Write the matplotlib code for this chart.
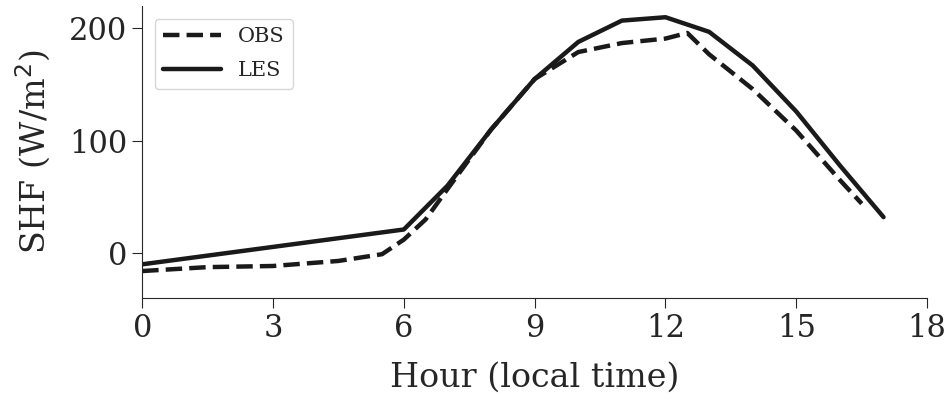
import numpy as np
import matplotlib
matplotlib.use("Agg")
import matplotlib.pyplot as plt
import seaborn as sns

# observed sensible heat flux (W/m2)
hour_obs = [0, 1.5, 3, 4.5, 5.5, 6, 6.5, 7, 8, 9, 10, 11, 12, 12.5, 13, 14, 15, 16, 16.5]
shf_obs = [-16, -12.5, -11.5, -7, -1, 12, 30, 57, 110, 155, 179, 187, 191, 196, 177, 146, 109, 65, 44]

# LES sensible heat flux (W/m2)
hour_les = [0, 6, 7, 8, 9, 10, 11, 12, 13, 14, 15, 16, 17]
shf_les = [-10, 21, 60, 110, 155, 188, 207, 210, 197, 167, 126, 78, 32]

sns.set_style("ticks")
plt.rcParams['font.family'] = ['DejaVu Serif']

fig = plt.figure(figsize=(9.48, 4.0), dpi=100)
ax = fig.add_axes([0.15, 0.255, 0.828, 0.73])

col = "#1a1a1a"
ax.plot(hour_obs, shf_obs, ls="--", lw=3.2, color=col, label="OBS")
ax.plot(hour_les, shf_les, ls="-", lw=3.2, color=col, label="LES")

ax.set_xlim(0, 18)
ax.set_ylim(-40, 220)
ax.set_xticks([0, 3, 6, 9, 12, 15, 18])
ax.set_yticks([0, 100, 200])
ax.tick_params(labelsize=22, length=7, colors=".15")
ax.set_xlabel("Hour (local time)", fontsize=24, color=".15", labelpad=13)
ax.set_ylabel("SHF (W/m$^2$)", fontsize=24, color=".15", labelpad=12)
sns.despine(ax=ax)

ax.legend(loc="upper left", fontsize=15, handlelength=2.8, frameon=True,
          labelspacing=0.75, borderaxespad=0.6)

fig.savefig("out.png", dpi=100)
